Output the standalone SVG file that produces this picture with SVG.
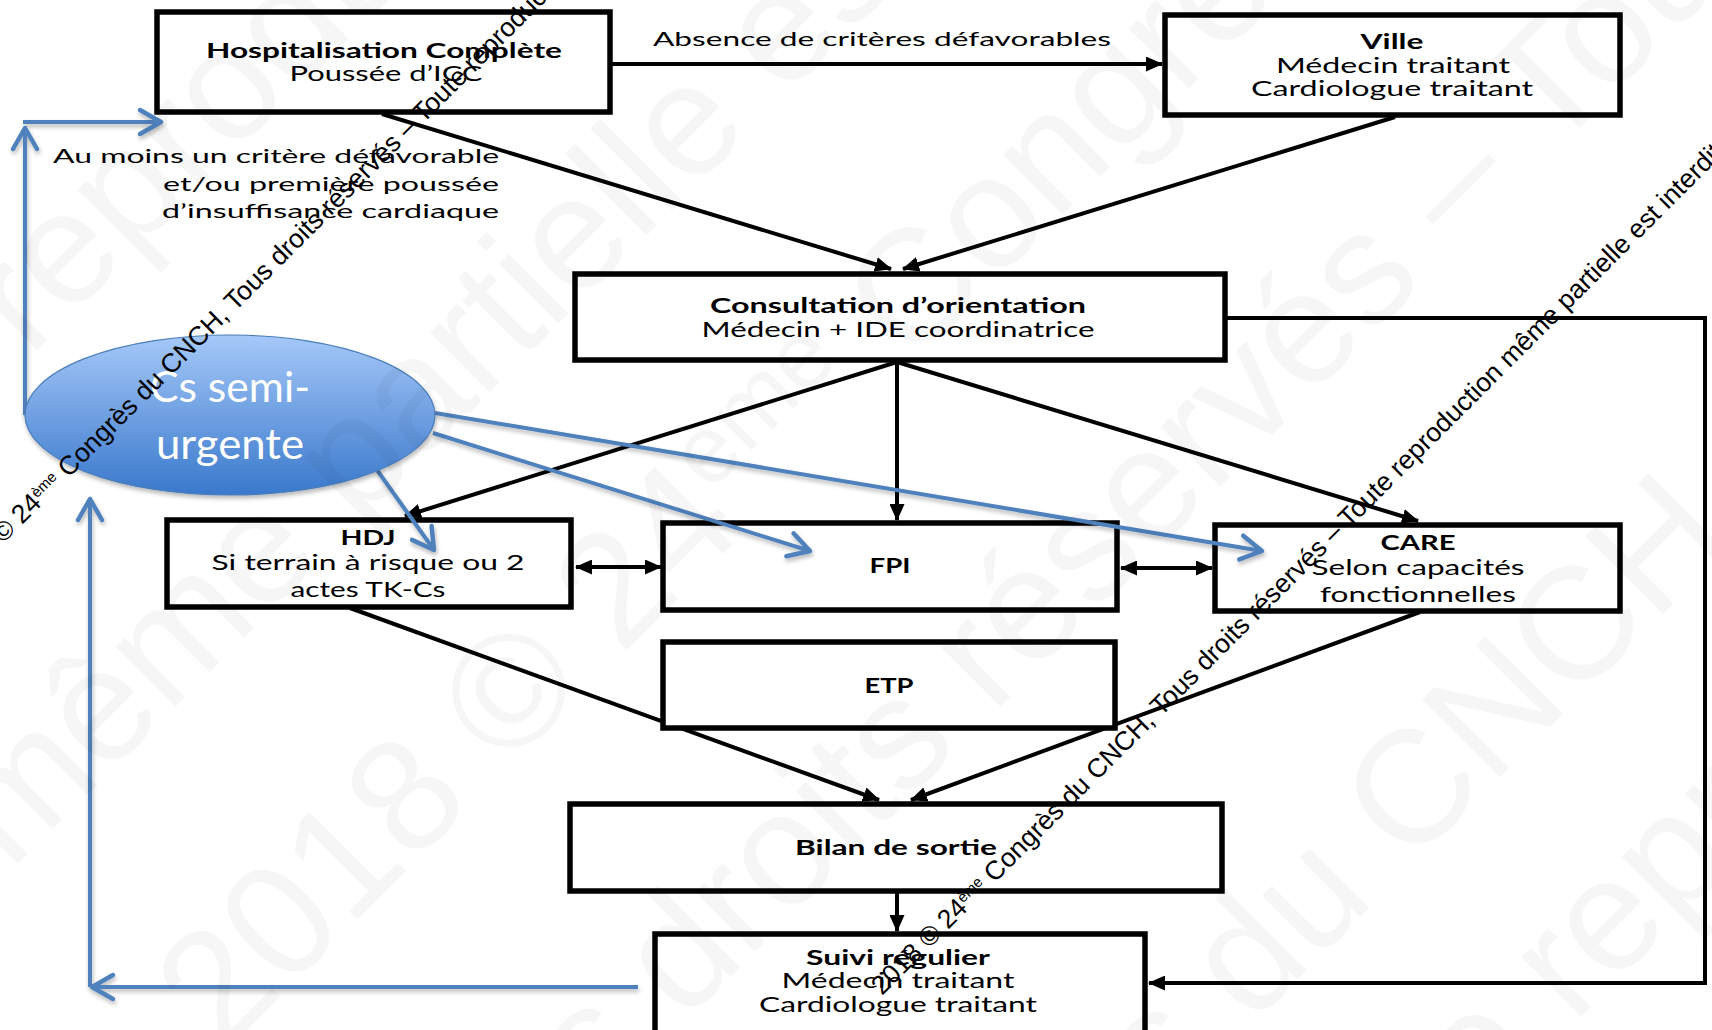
<svg xmlns="http://www.w3.org/2000/svg" width="1712" height="1030" viewBox="0 0 1712 1030">
<defs>
  <linearGradient id="eg" x1="0" y1="0" x2="0" y2="1">
    <stop offset="0" stop-color="#a5c8f8"/>
    <stop offset="1" stop-color="#3a78cc"/>
  </linearGradient>
  <filter id="sh" x="-10%" y="-10%" width="130%" height="140%">
    <feDropShadow dx="1" dy="3" stdDeviation="2" flood-color="#000" flood-opacity="0.28"/>
  </filter>
  <marker id="ah" markerUnits="userSpaceOnUse" markerWidth="17" markerHeight="15" viewBox="0 0 17 15" refX="16" refY="7.5" orient="auto-start-reverse">
    <path d="M0,0 L17,7.5 L0,15 z" fill="#000"/>
  </marker>
  <marker id="bh" markerUnits="userSpaceOnUse" markerWidth="30" markerHeight="32" viewBox="-26 -16 30 32" refX="0" refY="0" orient="auto">
    <path d="M-21,-12 L0,0 L-21,12" fill="none" stroke="#4f81bd" stroke-width="4.5" stroke-linecap="round" stroke-linejoin="round"/>
  </marker>
  <style>
    .box{fill:#fff;stroke:#000;stroke-width:5.5}
    .t{font-family:Lato,"Liberation Sans",sans-serif;font-size:21px;fill:#000;text-anchor:middle}
    .b{font-weight:700}
    .lbl{font-size:20px}
    .e{text-anchor:end}
    .cs{font-size:43px;fill:#fff}
    .c{stroke:#000;stroke-width:4;fill:none}
    .bl{stroke:#4f81bd;stroke-width:4;fill:none}
    .wm{font-family:"Liberation Sans",Arial,sans-serif;font-size:26.5px;fill:#000}
    .big{font-family:"Liberation Sans",Arial,sans-serif;font-size:160px;fill:#000;fill-opacity:0.035}
  </style>
</defs>
<rect width="1712" height="1030" fill="#fff"/>

<g id="connectors">
  <line class="c" x1="612" y1="64" x2="1162" y2="64" marker-end="url(#ah)"/>
  <text class="t lbl" x="882" y="46" textLength="458" lengthAdjust="spacingAndGlyphs">Absence de critères défavorables</text>
  <line class="c" x1="382" y1="114" x2="891" y2="269" marker-end="url(#ah)"/>
  <line class="c" x1="1395" y1="117" x2="903" y2="269" marker-end="url(#ah)"/>
  <text class="t lbl e" x="499" y="163" textLength="446" lengthAdjust="spacingAndGlyphs">Au moins un critère défavorable</text>
  <text class="t lbl e" x="499" y="191" textLength="336" lengthAdjust="spacingAndGlyphs">et/ou première poussée</text>
  <text class="t lbl e" x="499" y="218" textLength="337" lengthAdjust="spacingAndGlyphs">d’insuffisance cardiaque</text>
  <line class="c" x1="897" y1="362" x2="405" y2="516" marker-end="url(#ah)"/>
  <line class="c" x1="897" y1="362" x2="897" y2="520" marker-end="url(#ah)"/>
  <line class="c" x1="897" y1="362" x2="1418" y2="521" marker-end="url(#ah)"/>
  <polyline class="c" points="1227,318 1705,318 1705,983 1149,983" marker-end="url(#ah)"/>
  <line class="c" x1="350" y1="608" x2="879" y2="800" marker-end="url(#ah)"/>
  <line class="c" x1="1420" y1="612" x2="911" y2="800" marker-end="url(#ah)"/>
  <line class="c" x1="897" y1="893" x2="897" y2="931" marker-end="url(#ah)"/>
  <line class="c" x1="576" y1="567" x2="661" y2="567" marker-start="url(#ah)" marker-end="url(#ah)"/>
  <line class="c" x1="1121" y1="568" x2="1212" y2="568" marker-start="url(#ah)" marker-end="url(#ah)"/>
</g>

<g id="node-hospitalisation">
  <rect class="box" x="157" y="12" width="453" height="100"/>
  <text class="t b" x="384" y="58" textLength="356" lengthAdjust="spacingAndGlyphs">Hospitalisation Complète</text>
  <text class="t" x="386" y="81" textLength="193" lengthAdjust="spacingAndGlyphs">Poussée d’ICC</text>
</g>
<g id="node-ville">
  <rect class="box" x="1165" y="15" width="455" height="100"/>
  <text class="t b" x="1392" y="49" textLength="63" lengthAdjust="spacingAndGlyphs">Ville</text>
  <text class="t" x="1393" y="73" textLength="234" lengthAdjust="spacingAndGlyphs">Médecin traitant</text>
  <text class="t" x="1392" y="96" textLength="282" lengthAdjust="spacingAndGlyphs">Cardiologue traitant</text>
</g>
<g id="node-consultation">
  <rect class="box" x="575" y="274" width="650" height="86"/>
  <text class="t b" x="898" y="313" textLength="376" lengthAdjust="spacingAndGlyphs">Consultation d’orientation</text>
  <text class="t" x="898" y="337" textLength="393" lengthAdjust="spacingAndGlyphs">Médecin + IDE coordinatrice</text>
</g>
<g id="node-hdj">
  <rect class="box" x="167" y="520" width="404" height="87"/>
  <text class="t b" x="368" y="545" textLength="55" lengthAdjust="spacingAndGlyphs">HDJ</text>
  <text class="t" x="368" y="570" textLength="313" lengthAdjust="spacingAndGlyphs">Si terrain à risque ou 2</text>
  <text class="t" x="368" y="597" textLength="155" lengthAdjust="spacingAndGlyphs">actes TK-Cs</text>
</g>
<g id="node-fpi">
  <rect class="box" x="663" y="523" width="454" height="87"/>
  <text class="t b" x="890" y="573" textLength="41" lengthAdjust="spacingAndGlyphs">FPI</text>
</g>
<g id="node-care">
  <rect class="box" x="1215" y="525" width="405" height="86"/>
  <text class="t b" x="1418" y="550" textLength="75" lengthAdjust="spacingAndGlyphs">CARE</text>
  <text class="t" x="1418" y="575" textLength="213" lengthAdjust="spacingAndGlyphs">Selon capacités</text>
  <text class="t" x="1418" y="602" textLength="196" lengthAdjust="spacingAndGlyphs">fonctionnelles</text>
</g>
<g id="node-etp">
  <rect class="box" x="663" y="642" width="452" height="86"/>
  <text class="t b" x="889" y="693" textLength="49" lengthAdjust="spacingAndGlyphs">ETP</text>
</g>
<g id="node-bilan">
  <rect class="box" x="570" y="804" width="652" height="87"/>
  <text class="t b" x="896" y="855" textLength="202" lengthAdjust="spacingAndGlyphs">Bilan de sortie</text>
</g>
<g id="node-suivi">
  <rect class="box" x="655" y="934" width="490" height="110"/>
  <text class="t b" x="898" y="965" textLength="184" lengthAdjust="spacingAndGlyphs">Suivi régulier</text>
  <text class="t" x="898" y="988" textLength="233" lengthAdjust="spacingAndGlyphs">Médecin traitant</text>
  <text class="t" x="898" y="1012" textLength="278" lengthAdjust="spacingAndGlyphs">Cardiologue traitant</text>
</g>

<g id="connectors-overlay" filter="url(#sh)">
  <line class="bl" x1="25" y1="415" x2="25" y2="128" marker-end="url(#bh)"/>
  <line class="bl" x1="23" y1="122" x2="161" y2="122" marker-end="url(#bh)"/>
  <line class="bl" x1="435" y1="413" x2="1262" y2="551" marker-end="url(#bh)"/>
  <line class="bl" x1="433" y1="433" x2="810" y2="551" marker-end="url(#bh)"/>
  <line class="bl" x1="377" y1="470" x2="434" y2="550" marker-end="url(#bh)"/>
  <line class="bl" x1="90" y1="987" x2="90" y2="499" marker-end="url(#bh)"/>
  <line class="bl" x1="638" y1="987" x2="92" y2="987" marker-end="url(#bh)"/>
</g>

<g id="node-cs-semi-urgente">
  <ellipse cx="230" cy="415" rx="205" ry="80" fill="url(#eg)" stroke="#4a7ebb" stroke-width="1.2" filter="url(#sh)"/>
  <text class="t cs" x="230" y="402" textLength="160" lengthAdjust="spacingAndGlyphs">Cs semi-</text>
  <text class="t cs" x="230" y="459" textLength="148" lengthAdjust="spacingAndGlyphs">urgente</text>
</g>

<g id="watermark-large">
  <text class="big" transform="translate(-279,666) rotate(-45)">Toute reproduction même partielle est interdite</text>
  <text class="big" transform="translate(-650,1532) rotate(-45)">reproduction même partielle est interdite</text>
  <text class="big" transform="translate(223,1054) rotate(-45)">2018 © 24<tspan font-size="96" baseline-shift="super">ème</tspan> Congrès du CNCH, Tous droits réservés</text>
  <text class="big" transform="translate(414,1293) rotate(-45)">Tous droits réservés – Toute reproduction même partielle</text>
  <text class="big" transform="translate(503,1774) rotate(-45)">24<tspan font-size="96" baseline-shift="super">ème</tspan> Congrès du CNCH, Tous droits réservés</text>
  <text class="big" transform="translate(1265,1333) rotate(-45)">Toute reproduction même partielle</text>
</g>

<g id="watermark">
  <text class="wm" transform="translate(-44,591) rotate(-45)">2018 © 24<tspan font-size="15" baseline-shift="super">ème</tspan> Congrès du CNCH, Tous droits réservés – Toute reproduction même partielle est interdite</text>
  <text class="wm" transform="translate(882,996) rotate(-45)">2018 © 24<tspan font-size="15" baseline-shift="super">ème</tspan> Congrès du CNCH, Tous droits réservés – Toute reproduction même partielle est interdite</text>
</g>
</svg>
